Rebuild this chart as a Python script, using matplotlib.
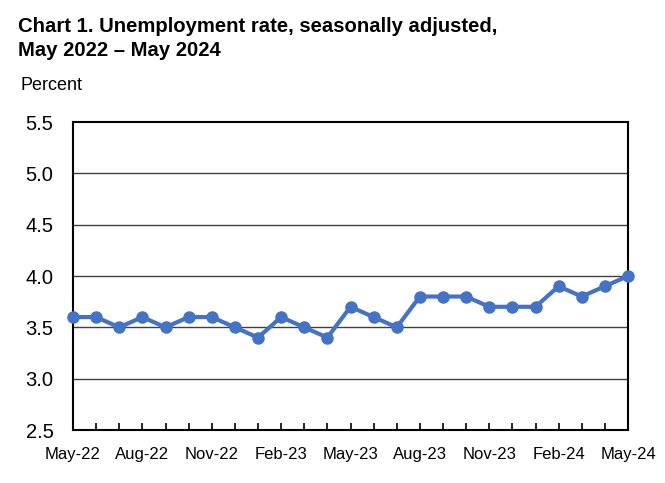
import matplotlib.pyplot as plt

months = ['May-22', 'Jun-22', 'Jul-22', 'Aug-22', 'Sep-22', 'Oct-22', 'Nov-22',
          'Dec-22', 'Jan-23', 'Feb-23', 'Mar-23', 'Apr-23', 'May-23', 'Jun-23',
          'Jul-23', 'Aug-23', 'Sep-23', 'Oct-23', 'Nov-23', 'Dec-23', 'Jan-24',
          'Feb-24', 'Mar-24', 'Apr-24', 'May-24']
rate = [3.6, 3.6, 3.5, 3.6, 3.5, 3.6, 3.6, 3.5, 3.4, 3.6, 3.5, 3.4, 3.7,
        3.6, 3.5, 3.8, 3.8, 3.8, 3.7, 3.7, 3.7, 3.9, 3.8, 3.9, 4.0]
yticks = [2.5, 3.0, 3.5, 4.0, 4.5, 5.0, 5.5]

plt.rcParams['font.family'] = ['Liberation Sans', 'DejaVu Sans']

fig = plt.figure(figsize=(6.65, 4.83), dpi=100)
ax = fig.add_axes([73 / 665, 1 - 430 / 483, 555 / 665, 308 / 483])

xs = list(range(len(months)))
for y in yticks[1:-1]:
    ax.axhline(y, color='#404040', lw=1.0, zorder=1)
ax.plot(xs, rate, color='#4472C4', lw=3, marker='o', ms=8, zorder=3, clip_on=False)

ax.set_xlim(0, len(months) - 1)
ax.set_ylim(2.5, 5.5)
ax.set_yticks(yticks)
ax.set_yticklabels(['%.1f' % v for v in yticks], fontsize=14.5)
ax.tick_params(axis='y', length=0, pad=14)
ax.set_xticks(xs)
ax.set_xticklabels([m if i % 3 == 0 else '' for i, m in enumerate(months)], fontsize=12)
ax.tick_params(axis='x', direction='in', length=5, width=1.2, pad=12)
for s in ax.spines.values():
    s.set_linewidth(1.5)
    s.set_color('black')

fig.text(18 / 665, 1 - 32 / 483, 'Chart 1. Unemployment rate, seasonally adjusted,',
         fontsize=14.6, fontweight='bold')
fig.text(18 / 665, 1 - 56 / 483, 'May 2022 \u2013 May 2024', fontsize=14.6, fontweight='bold')
fig.text(20 / 665, 1 - 90 / 483, 'Percent', fontsize=13)

fig.savefig('out.png', dpi=100)
